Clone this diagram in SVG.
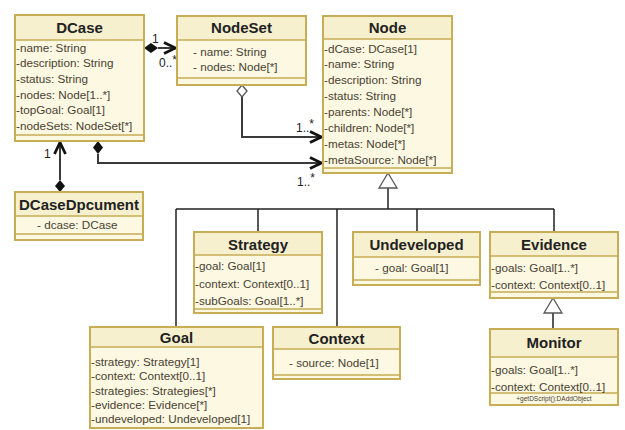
<svg xmlns="http://www.w3.org/2000/svg" width="625" height="430" viewBox="0 0 625 430">
<defs>
<style>
.box{fill:#fcf8e2;stroke:#c7ad55;stroke-width:2}
.head{fill:#f7f0cf}
.sep{stroke:#c7ad55;stroke-width:1.6}
.t{font-family:"Liberation Sans",Arial,sans-serif;font-weight:bold;font-size:15px;fill:#222;text-anchor:middle}
.a{font-family:"Liberation Sans",Arial,sans-serif;font-size:11.7px;fill:#4a4232}
.m{font-family:"Liberation Sans",Arial,sans-serif;font-size:6.5px;fill:#4a4232}
.l{font-family:"Liberation Sans",Arial,sans-serif;font-size:12px;fill:#222}
.c{fill:none;stroke:#3a3a3a;stroke-width:2}
.g{fill:none;stroke:#222;stroke-width:1.5}
</style>
<marker id="open" viewBox="0 0 14 14" refX="13" refY="7" markerWidth="14" markerHeight="14" markerUnits="userSpaceOnUse" orient="auto">
<path d="M1,1.5 L12.5,7 L1,12.5" fill="none" stroke="#111" stroke-width="2.8"/>
</marker>
</defs>
<rect width="625" height="430" fill="#fff"/>

<g id="connectors">
<path class="c" d="M158,48 H176" marker-end="url(#open)"/>
<path d="M144,48 L151,43 L158,48 L151,53 Z" fill="#111"/>
<text class="l" x="152" y="43">1</text>
<text class="l" x="159" y="67">0..<tspan dy="-3">*</tspan></text>

<path class="c" d="M98,154 V163 H322" marker-end="url(#open)"/>
<path d="M98,141 L103,147.5 L98,154 L93,147.5 Z" fill="#111"/>
<text class="l" x="297" y="186">1..<tspan dy="-4">*</tspan></text>

<path class="c" d="M60,180 V142" marker-end="url(#open)"/>
<path d="M60,180 L65,186 L60,192 L55,186 Z" fill="#111"/>
<text class="l" x="44" y="158">1</text>

<path class="c" d="M242,97 V137 H322" marker-end="url(#open)"/>
<path d="M242,85 L247,91 L242,97 L237,91 Z" fill="#fff" stroke="#555" stroke-width="1.3"/>
<text class="l" x="296" y="132">1..<tspan dy="-4">*</tspan></text>

<path class="g" d="M388,188 V209 M176,209 H554 M176,209 V327 M258,209 V232 M337,209 V327 M417,209 V232 M554,209 V232"/>
<path d="M388,173 L397,188 L379,188 Z" fill="#fff" stroke="#555" stroke-width="1.3"/>

<path class="g" d="M553,313 V329"/>
<path d="M553,298 L562,313 L544,313 Z" fill="#fff" stroke="#555" stroke-width="1.3"/>
</g>

<g id="DCase">
<rect class="box" x="15" y="15" width="129" height="126"/>
<rect class="head" x="16" y="16" width="127" height="24"/>
<line class="sep" x1="15" y1="40" x2="144" y2="40"/>
<line class="sep" x1="15" y1="135" x2="144" y2="135"/>
<text class="t" x="79.5" y="33">DCase</text>
<text class="a" x="16" y="52">-name: String</text>
<text class="a" x="16" y="67">-description: String</text>
<text class="a" x="16" y="83">-status: String</text>
<text class="a" x="16" y="99">-nodes: Node[1..*]</text>
<text class="a" x="16" y="114">-topGoal: Goal[1]</text>
<text class="a" x="16" y="130">-nodeSets: NodeSet[*]</text>
</g>

<g id="NodeSet">
<rect class="box" x="177" y="16" width="129" height="69"/>
<rect class="head" x="178" y="17" width="127" height="23"/>
<line class="sep" x1="177" y1="40" x2="306" y2="40"/>
<line class="sep" x1="177" y1="78" x2="306" y2="78"/>
<text class="t" x="241.5" y="33">NodeSet</text>
<text class="a" x="193" y="56">-  name: String</text>
<text class="a" x="193" y="71">-  nodes: Node[*]</text>
</g>

<g id="Node">
<rect class="box" x="323" y="16" width="129" height="157"/>
<rect class="head" x="324" y="17" width="127" height="22"/>
<line class="sep" x1="323" y1="39" x2="452" y2="39"/>
<line class="sep" x1="323" y1="168" x2="452" y2="168"/>
<text class="t" x="387.5" y="33">Node</text>
<text class="a" x="324" y="53">-dCase: DCase[1]</text>
<text class="a" x="324" y="68">-name: String</text>
<text class="a" x="324" y="84">-description: String</text>
<text class="a" x="324" y="100">-status: String</text>
<text class="a" x="324" y="116">-parents: Node[*]</text>
<text class="a" x="324" y="132">-children: Node[*]</text>
<text class="a" x="324" y="148">-metas: Node[*]</text>
<text class="a" x="324" y="164">-metaSource: Node[*]</text>
</g>

<g id="DCaseDpcument">
<rect class="box" x="15" y="192" width="128" height="48"/>
<rect class="head" x="16" y="193" width="126" height="23"/>
<line class="sep" x1="15" y1="216" x2="143" y2="216"/>
<line class="sep" x1="15" y1="234" x2="143" y2="234"/>
<text class="t" x="79" y="210">DCaseDpcument</text>
<text class="a" x="37" y="229">-  dcase: DCase</text>
</g>

<g id="Strategy">
<rect class="box" x="194" y="232" width="128" height="81"/>
<rect class="head" x="195" y="233" width="126" height="22"/>
<line class="sep" x1="194" y1="255" x2="322" y2="255"/>
<line class="sep" x1="194" y1="309" x2="322" y2="309"/>
<text class="t" x="258" y="250">Strategy</text>
<text class="a" x="195" y="270">-goal: Goal[1]</text>
<text class="a" x="195" y="288">-context: Context[0..1]</text>
<text class="a" x="195" y="305">-subGoals: Goal[1..*]</text>
</g>

<g id="Undeveloped">
<rect class="box" x="353" y="232" width="127" height="53"/>
<rect class="head" x="354" y="233" width="125" height="24"/>
<line class="sep" x1="353" y1="257" x2="480" y2="257"/>
<line class="sep" x1="353" y1="280" x2="480" y2="280"/>
<text class="t" x="416.5" y="250">Undeveloped</text>
<text class="a" x="375" y="272">-  goal: Goal[1]</text>
</g>

<g id="Evidence">
<rect class="box" x="490" y="232" width="128" height="66"/>
<rect class="head" x="491" y="233" width="126" height="23"/>
<line class="sep" x1="490" y1="256" x2="618" y2="256"/>
<line class="sep" x1="490" y1="292" x2="618" y2="292"/>
<text class="t" x="554" y="250">Evidence</text>
<text class="a" x="491" y="272">-goals: Goal[1..*]</text>
<text class="a" x="491" y="289">-context: Context[0..1]</text>
</g>

<g id="Goal">
<rect class="box" x="90" y="327" width="173" height="101"/>
<rect class="head" x="91" y="328" width="171" height="19"/>
<line class="sep" x1="90" y1="347" x2="263" y2="347"/>
<text class="t" x="176.5" y="343">Goal</text>
<text class="a" x="91" y="366">-strategy: Strategy[1]</text>
<text class="a" x="91" y="380">-context: Context[0..1]</text>
<text class="a" x="91" y="395">-strategies: Strategies[*]</text>
<text class="a" x="91" y="409">-evidence: Evidence[*]</text>
<text class="a" x="91" y="423">-undeveloped: Undeveloped[1]</text>
</g>

<g id="Context">
<rect class="box" x="273" y="327" width="127" height="52"/>
<rect class="head" x="274" y="328" width="125" height="21"/>
<line class="sep" x1="273" y1="349" x2="400" y2="349"/>
<line class="sep" x1="273" y1="375" x2="400" y2="375"/>
<text class="t" x="336.5" y="344">Context</text>
<text class="a" x="289" y="367">-  source: Node[1]</text>
</g>

<g id="Monitor">
<rect class="box" x="490" y="329" width="128" height="76"/>
<rect class="head" x="491" y="330" width="126" height="27"/>
<line class="sep" x1="490" y1="357" x2="618" y2="357"/>
<line class="sep" x1="490" y1="393" x2="618" y2="393"/>
<text class="t" x="554" y="348">Monitor</text>
<text class="a" x="491" y="374">-goals: Goal[1..*]</text>
<text class="a" x="491" y="391">-context: Context[0..1]</text>
<text class="m" x="554" y="401" text-anchor="middle">+getDScript():DAddObject</text>
</g>
</svg>
